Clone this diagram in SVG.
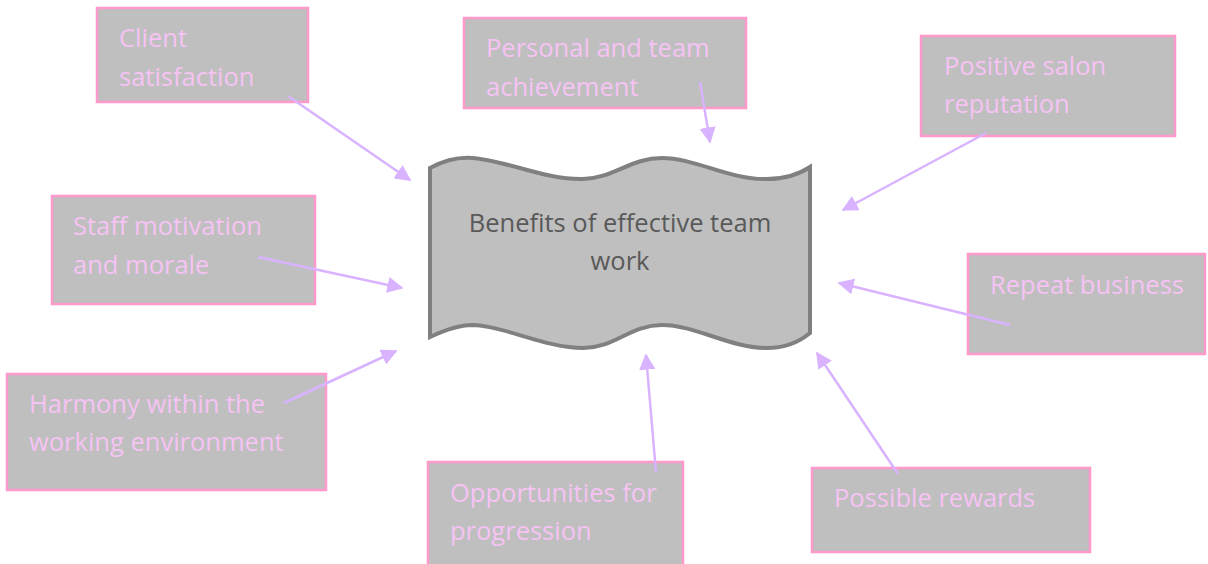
<svg xmlns="http://www.w3.org/2000/svg" width="1208" height="564" viewBox="0 0 1208 564">
<defs>
<style>
.box{fill:#BFBFBF;stroke:#FF99CC;stroke-width:2.5}
.lbl{font-family:"Open Sans","Liberation Sans",Arial,sans-serif;font-size:25.5px;fill:#F6C3F4}
.ctr{font-family:"Open Sans","Liberation Sans",Arial,sans-serif;font-size:25.5px;fill:#595959;text-anchor:middle}
.conn{stroke:#D9B3FF;stroke-width:2.5;fill:none;marker-end:url(#ah)}
</style>
<marker id="ah" viewBox="0 0 10 10" refX="9" refY="5" markerWidth="6.5" markerHeight="6.5" markerUnits="strokeWidth" orient="auto">
<path d="M0,0 L10,5 L0,10 z" fill="#D9B3FF"/>
</marker>
</defs>
<rect width="1208" height="564" fill="#FFFFFF"/>
<g id="center">
<path d="M430,168 C445,160 458,157 472,158 C505,160 545,180 583,179 C615,178 630,158 662,158 C695,158 730,180 767,179 C785,179 798,175 810,167 L810,333 C798,343 785,348 767,348 C730,348 695,325 662,325 C630,325 615,348 583,348 C545,348 505,326 472,325 C458,325 445,330 430,337 Z" fill="#BFBFBF" stroke="#808080" stroke-width="4" stroke-linejoin="miter"/>
<text class="ctr" x="620" y="232">Benefits of effective team</text>
<text class="ctr" x="620" y="270">work</text>
</g>
<g id="n1"><rect class="box" x="97" y="8" width="211" height="94"/><text class="lbl" x="119" y="47">Client</text><text class="lbl" x="119" y="86">satisfaction</text></g>
<g id="n2"><rect class="box" x="464" y="18" width="282" height="90"/><text class="lbl" x="486" y="57">Personal and team</text><text class="lbl" x="486" y="96">achievement</text></g>
<g id="n3"><rect class="box" x="921" y="36" width="254" height="100"/><text class="lbl" x="944" y="75">Positive salon</text><text class="lbl" x="944" y="113">reputation</text></g>
<g id="n4"><rect class="box" x="52" y="196" width="263" height="108"/><text class="lbl" x="73" y="235">Staff motivation</text><text class="lbl" x="73" y="274">and morale</text></g>
<g id="n5"><rect class="box" x="968" y="254" width="237" height="100"/><text class="lbl" x="990" y="294">Repeat business</text></g>
<g id="n6"><rect class="box" x="7" y="374" width="319" height="116"/><text class="lbl" x="29" y="413">Harmony within the</text><text class="lbl" x="29" y="451">working environment</text></g>
<g id="n7"><rect class="box" x="428" y="462" width="255" height="104"/><text class="lbl" x="450" y="502">Opportunities for</text><text class="lbl" x="450" y="540">progression</text></g>
<g id="n8"><rect class="box" x="812" y="468" width="278" height="84"/><text class="lbl" x="834" y="507">Possible rewards</text></g>
<g id="connectors">
<line class="conn" x1="288" y1="96" x2="410" y2="180"/>
<line class="conn" x1="700" y1="82" x2="710" y2="142"/>
<line class="conn" x1="986" y1="133" x2="843" y2="210"/>
<line class="conn" x1="258" y1="257" x2="402" y2="288"/>
<line class="conn" x1="1010" y1="325" x2="839" y2="283"/>
<line class="conn" x1="284" y1="403" x2="396" y2="351"/>
<line class="conn" x1="656" y1="472" x2="646" y2="355"/>
<line class="conn" x1="898" y1="474" x2="817" y2="353"/>
</g>
</svg>
